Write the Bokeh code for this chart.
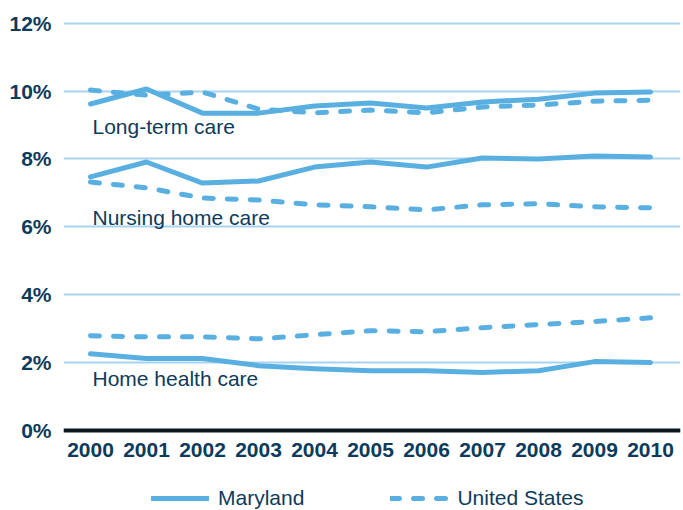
from bokeh.plotting import figure
from bokeh.models import (FixedTicker, PrintfTickFormatter, Span, Label, Legend,
                          LegendItem, Range1d, ColumnDataSource)
from bokeh.embed import file_html
from bokeh.resources import INLINE

years = [2000, 2001, 2002, 2003, 2004, 2005, 2006, 2007, 2008, 2009, 2010]

md_long_term = [9.62, 10.06, 9.35, 9.35, 9.56, 9.65, 9.50, 9.68, 9.76, 9.94, 9.97]
us_long_term = [10.03, 9.88, 9.97, 9.47, 9.36, 9.44, 9.36, 9.53, 9.59, 9.70, 9.73]
md_nursing = [7.47, 7.91, 7.29, 7.35, 7.76, 7.91, 7.76, 8.03, 8.00, 8.09, 8.06]
us_nursing = [7.32, 7.15, 6.85, 6.79, 6.65, 6.59, 6.50, 6.65, 6.68, 6.59, 6.56]
md_home = [2.26, 2.12, 2.12, 1.91, 1.82, 1.76, 1.76, 1.71, 1.76, 2.03, 2.00]
us_home = [2.79, 2.76, 2.76, 2.70, 2.82, 2.94, 2.91, 3.03, 3.12, 3.21, 3.32]

y_ticks = [0, 2, 4, 6, 8, 10, 12]
category_labels = ["Long-term care", "Nursing home care", "Home health care"]
label_y = [8.96, 6.27, 1.53]
series_names = ["Maryland", "United States"]

LINE = "#5aafe1"
GRID = "#a9d4f1"
TEXT = "#0d3b5c"
FONT = "Liberation Sans"

p = figure(width=683, height=510, output_backend="svg", toolbar_location=None,
           x_range=Range1d(1999.518, 2010.536), y_range=Range1d(-2.357, 12.256),
           min_border_left=63, min_border_right=3, min_border_top=14, min_border_bottom=0)
p.outline_line_color = None
p.background_fill_color = "white"
p.border_fill_color = "white"

p.xgrid.grid_line_color = None
p.ygrid.grid_line_color = GRID
p.ygrid.grid_line_width = 2
p.ygrid.ticker = FixedTicker(ticks=y_ticks)

p.yaxis.ticker = FixedTicker(ticks=y_ticks)
p.yaxis.formatter = PrintfTickFormatter(format="%d%%")
p.xaxis.ticker = FixedTicker(ticks=years)
p.xaxis.fixed_location = 0
for ax in (p.xaxis, p.yaxis):
    ax.axis_line_color = None
    ax.major_tick_line_color = None
    ax.minor_tick_line_color = None
    ax.major_label_text_font = FONT
    ax.major_label_text_font_style = "bold"
    ax.major_label_text_font_size = "21px"
    ax.major_label_text_color = TEXT
p.yaxis.major_label_standoff = 6
p.xaxis.major_label_standoff = 7

zero = Span(location=0, dimension="width", line_color="#0b1820", line_width=4)
p.add_layout(zero)

src = ColumnDataSource(dict(year=years, md_lt=md_long_term, us_lt=us_long_term,
                            md_nh=md_nursing, us_nh=us_nursing,
                            md_hh=md_home, us_hh=us_home))

md_renderers = []
us_renderers = []
for col in ["md_lt", "md_nh", "md_hh"]:
    r = p.line("year", col, source=src, line_color=LINE, line_width=5,
               line_join="round", line_cap="round")
    md_renderers.append(r)
for col in ["us_lt", "us_nh", "us_hh"]:
    r = p.line("year", col, source=src, line_color=LINE, line_width=5,
               line_join="round", line_cap="round", line_dash="9 14")
    us_renderers.append(r)

for txt, yv in zip(category_labels, label_y):
    p.add_layout(Label(x=years[0], y=yv, x_offset=2, text=txt, text_font=FONT,
                       text_font_size="21px", text_color=TEXT,
                       text_baseline="middle", text_align="left"))

legend = Legend(items=[LegendItem(label=series_names[0], renderers=[md_renderers[0]]),
                       LegendItem(label=series_names[1], renderers=[us_renderers[0]])],
                orientation="horizontal", location=(88, 0),
                padding=0, margin=0, spacing=86, glyph_width=58, glyph_height=20,
                label_standoff=9, label_text_font=FONT, label_text_font_size="21px",
                label_text_color=TEXT, border_line_color=None,
                background_fill_alpha=0)
p.add_layout(legend, "center")

open("out.html", "w").write(file_html(p, INLINE))
